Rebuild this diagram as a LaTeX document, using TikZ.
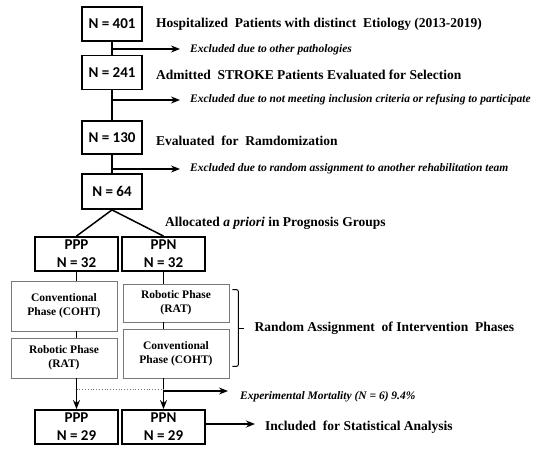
\documentclass[tikz,border=0pt]{standalone}
\usepackage{fontspec}
\setmainfont{Liberation Serif}
\newfontfamily\calfont{Carlito}
\usetikzlibrary{arrows.meta, positioning, calc}
\definecolor{PhaseGray}{RGB}{120,120,120}
\tikzset{
  nbox/.style={rectangle, draw=black, line width=1.8pt, fill=white,
               minimum width=#1, minimum height=34pt, inner sep=0pt,
               font=\calfont\fontsize{15}{18}\selectfont\bfseries, align=center},
  nbox/.default=60pt,
  phbox/.style={rectangle, draw=PhaseGray, line width=0.8pt, fill=white,
                minimum width=106pt, inner sep=0pt,
                font=\fontsize{11.5}{14}\selectfont\bfseries, align=center},
  lbl/.style={inner sep=0pt, anchor=west, font=\fontsize{13.5}{16}\selectfont\bfseries},
  exlbl/.style={inner sep=0pt, anchor=west, font=\fontsize{11.5}{14}\selectfont\bfseries\itshape},
  ln/.style={line width=1.5pt},
  arr/.style={-{Stealth[length=9pt, width=7pt]}, line width=1.5pt},
}

\begin{document}
\begin{tikzpicture}[x=1pt, y=-1pt]
  \useasboundingbox (0,0) rectangle (550,450);

  % screening chain
  \node[nbox] (n401) at (112,24) {N = 401};
  \node[nbox] (n241) at (112,72.5) {N = 241};
  \node[nbox, minimum height=33pt] (n130) at (112,137.5) {N = 130};
  \node[nbox, minimum height=35pt] (n64) at (112,191.5) {N = 64};

  \node[lbl, right=13pt of n401] (hosp)
       {Hospitalized~ Patients with distinct~ Etiology (2013-2019)};
  \node[lbl, right=13pt of n241, yshift=-2pt] (adm)
       {Admitted~ STROKE Patients Evaluated for Selection};
  \node[lbl, right=13pt of n130, yshift=-3pt] (eval)
       {Evaluated~ for~ Ramdomization};

  \coordinate (e1) at (112,49);
  \coordinate (e2) at (112,100);
  \coordinate (e3) at (112,169);
  \node[exlbl] (ex1) at (190,50) {Excluded due to other pathologies};
  \node[exlbl] (ex2) at (190,100)
       {Excluded due to not meeting inclusion criteria or refusing to participate};
  \node[exlbl] (ex3) at (190,169)
       {Excluded due to random assignment to another rehabilitation team};

  % prognosis groups
  \node[nbox=83pt] (ppp) at (76.5,254) {PPP\\N = 32};
  \node[nbox=83pt] (ppn) at (163.5,254) {PPN\\N = 32};
  \node[lbl] (alloc) at (165,223) {Allocated \textit{a priori} in Prognosis Groups};

  % intervention phases
  \node[phbox, minimum height=50pt] (conv1) at (64,306) {Conventional\\Phase (COHT)};
  \node[phbox, minimum height=40pt] (rob1) at (64,358) {Robotic Phase\\(RAT)};
  \node[phbox, minimum height=38pt] (rob2) at (176,303) {Robotic Phase\\(RAT)};
  \node[phbox, minimum height=49pt] (conv2) at (176,353.5) {Conventional\\Phase (COHT)};

  \coordinate (bt) at ($(rob2.north east)+(3,6)$);
  \coordinate (bb) at ($(conv2.south east)+(3,-12)$);
  \coordinate (tick) at ($(bt)!0.5!(bb)+(12,0)$);
  \node[lbl, right=10pt of tick] (rand)
       {Random Assignment~ of Intervention~ Phases};

  % final groups
  \node[nbox=83pt] (pppf) at (76.5,427) {PPP\\N = 29};
  \node[nbox=83pt] (ppnf) at (163.5,427) {PPN\\N = 29};
  \coordinate (mo) at (163.5,391);
  \node[exlbl] (mort) at (240,397) {Experimental Mortality (N = 6) 9.4\%};
  \node[lbl] (incl) at (265,427) {Included~ for Statistical Analysis};

  \draw[ln] (n401) -- (n241);
  \draw[ln] (n241) -- (n130);
  \draw[ln] (n130) -- (n64);
  \draw[arr, shorten >=10pt] (e1) -- (e1 -| ex1.west);
  \draw[arr, shorten >=10pt] (e2) -- (e2 -| ex2.west);
  \draw[arr, shorten >=10pt] (e3) -- (e3 -| ex3.west);

  \draw[ln] (n64.south) -- (ppp.north);
  \draw[ln] (n64.south) -- (ppn.north);
  \draw[ln] (ppp) -- (ppp.south |- conv1.north);
  \draw[ln] (ppn) -- (ppn.south |- rob2.north);
  \draw[ln] (ppp.south |- conv1.south) -- (ppp.south |- rob1.north);
  \draw[ln] (ppn.south |- rob2.south) -- (ppn.south |- conv2.north);

  \draw[line width=1pt, rounded corners=2pt]
       (bt) -- ++(6,0) -- ($(bb)+(6,0)$) -- (bb);
  \draw[line width=1pt] ($(tick)+(-6,0)$) -- (tick);

  \draw[arr] (ppp.south |- rob1.south) -- (pppf);
  \draw[arr] (ppn.south |- conv2.south) -- (ppnf);
  \draw[dotted, PhaseGray, line width=0.8pt]
       ([yshift=2pt]ppp.south |- mo) -- ([yshift=2pt]mo);
  \draw[arr, shorten >=12pt] (mo) -- (mo -| mort.west);
  \draw[arr, shorten >=10pt] ([yshift=3pt]ppnf.east) -- ([yshift=3pt]ppnf.east -| incl.west);
\end{tikzpicture}
\end{document}
